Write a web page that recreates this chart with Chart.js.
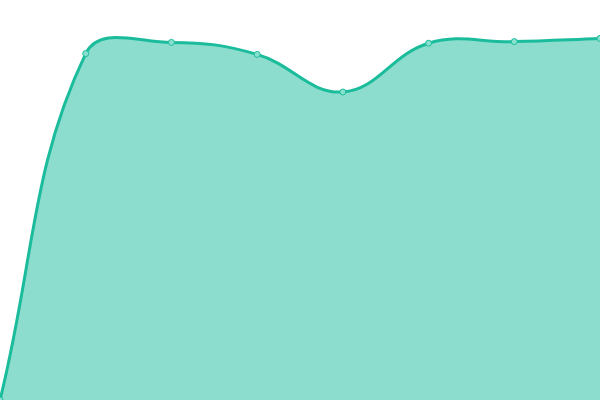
<!DOCTYPE html>
<html>
<head>
<meta charset="utf-8">
<script src="https://cdn.jsdelivr.net/npm/chart.js@4"></script>
<style>
  html, body { margin: 0; padding: 0; background: #fff; }
  #wrap { width: 600px; height: 400px; }
</style>
</head>
<body>
<div id="wrap"><canvas id="chart"></canvas></div>
<script>
// labels are not drawn in the picture, just one per point
const categories = ['1', '2', '3', '4', '5', '6', '7', '8'];
const values = [0, 86.6, 89.4, 86.4, 77, 89.2, 89.6, 90.4];
const yMin = 0;
const yMax = 100;

const ctx = document.getElementById('chart').getContext('2d');
new Chart(ctx, {
    type: 'line',
    data: {
        labels: categories,
        datasets: [{
            data: values,
            fill: true,
            tension: 0.4,
            borderColor: '#1abc9c',
            borderWidth: 3,
            backgroundColor: 'rgba(26, 188, 156, 0.5)',
            pointRadius: 3,
            pointBorderWidth: 1,
            pointBackgroundColor: 'rgba(137, 224, 207, 1)',
            pointBorderColor: '#1abc9c'
        }]
    },
    options: {
        responsive: true,
        maintainAspectRatio: false,
        animation: false,
        layout: { padding: 0, autoPadding: false },
        plugins: {
            legend: { display: false },
            tooltip: { enabled: false }
        },
        scales: {
            x: { display: false, offset: false },
            y: { display: false, min: yMin, max: yMax }
        }
    }
});
</script>
</body>
</html>
